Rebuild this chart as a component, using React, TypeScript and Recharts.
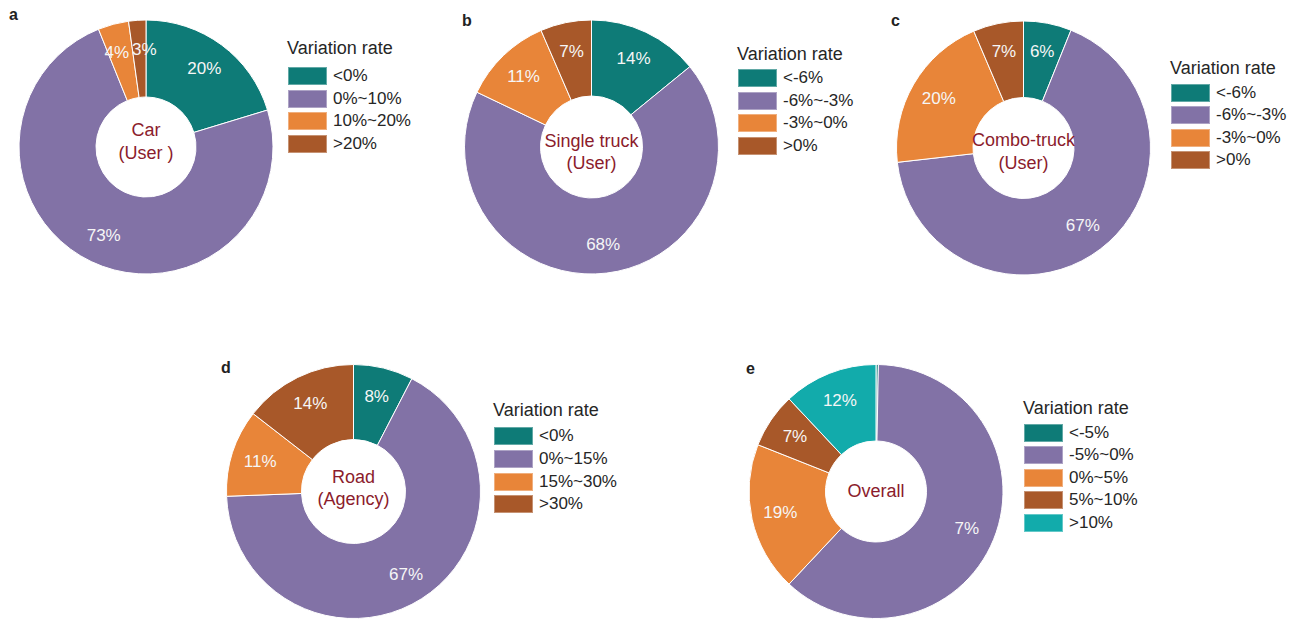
import { PieChart, Pie, Cell } from 'recharts';

const TEAL = '#0e7b77';
const PURPLE = '#8272a6';
const ORANGE = '#e88539';
const BROWN = '#a85829';
const CYAN = '#12abab';

const CAR_CATEGORIES = ['<0%', '0%~10%', '10%~20%', '>20%'];
const CAR_VALUES = [20.3, 73.6, 3.9, 2.2];
const CAR_LABELS = ['20%', '73%', '4%', '3%'];

const SINGLE_CATEGORIES = ['<-6%', '-6%~-3%', '-3%~0%', '>0%'];
const SINGLE_VALUES = [14.1, 68, 11.4, 6.5];
const SINGLE_LABELS = ['14%', '68%', '11%', '7%'];

const COMBO_CATEGORIES = ['<-6%', '-6%~-3%', '-3%~0%', '>0%'];
const COMBO_VALUES = [6.1, 67.1, 20.4, 6.4];
const COMBO_LABELS = ['6%', '67%', '20%', '7%'];

const ROAD_CATEGORIES = ['<0%', '0%~15%', '15%~30%', '>30%'];
const ROAD_VALUES = [7.6, 66.8, 11.1, 14.5];
const ROAD_LABELS = ['8%', '67%', '11%', '14%'];

const OVERALL_CATEGORIES = ['<-5%', '-5%~0%', '0%~5%', '5%~10%', '>10%'];
const OVERALL_VALUES = [0.3, 61.7, 19, 7, 12];
const OVERALL_LABELS = ['', '7%', '19%', '7%', '12%'];

const COLORS4 = [TEAL, PURPLE, ORANGE, BROWN];
const COLORS5 = [TEAL, PURPLE, ORANGE, BROWN, CYAN];

const FONT = '"Liberation Sans", Arial, Helvetica, sans-serif';
const RAD = Math.PI / 180;

// small horizontal nudges so the thin-slice labels don't collide
const makeLabel = (labels: string[], nudge: number[]) => (p: any) => {
  const r = 98;
  const x = p.cx + r * Math.cos(-p.midAngle * RAD) + (nudge[p.index] || 0);
  const y = p.cy + r * Math.sin(-p.midAngle * RAD);
  return (
    <text
      key={`lbl-${p.index}`}
      x={x}
      y={y}
      fill="#f6f6f6"
      textAnchor="middle"
      dominantBaseline="central"
      fontSize={17}
      fontFamily={FONT}
    >
      {labels[p.index]}
    </text>
  );
};

const panels = [
  {
    letter: 'a', left: 0, top: 0, w: 430, h: 300, cx: 146, cy: 147, inner: 50,
    cats: CAR_CATEGORIES, values: CAR_VALUES, labels: CAR_LABELS, colors: COLORS4, nudge: [0, 0, -4, 5],
    lx: 287, titleY: 48, rowY: 76, step: 22.7,
    center: ['Car', '(User )'], centerY: [130, 153], letterX: 9, letterBase: 20,
  },
  {
    letter: 'b', left: 430, top: 0, w: 430, h: 300, cx: 161.5, cy: 147, inner: 51,
    cats: SINGLE_CATEGORIES, values: SINGLE_VALUES, labels: SINGLE_LABELS, colors: COLORS4, nudge: [],
    lx: 307, titleY: 54, rowY: 77.7, step: 22.8,
    center: ['Single truck', '(User)'], centerY: [141, 163], letterX: 32, letterBase: 26,
  },
  {
    letter: 'c', left: 860, top: 0, w: 438, h: 300, cx: 163.5, cy: 148, inner: 50.5,
    cats: COMBO_CATEGORIES, values: COMBO_VALUES, labels: COMBO_LABELS, colors: COLORS4, nudge: [],
    lx: 310, titleY: 68, rowY: 92.5, step: 22.5,
    center: ['Combo-truck', '(User)'], centerY: [139.5, 163], letterX: 31, letterBase: 26.5,
  },
  {
    letter: 'd', left: 210, top: 340, w: 440, h: 279, cx: 143.5, cy: 151.5, inner: 52,
    cats: ROAD_CATEGORIES, values: ROAD_VALUES, labels: ROAD_LABELS, colors: COLORS4, nudge: [],
    lx: 283, titleY: 70, rowY: 96, step: 22.8,
    center: ['Road', '(Agency)'], centerY: [136.5, 159], letterX: 11, letterBase: 33,
  },
  {
    letter: 'e', left: 740, top: 340, w: 420, h: 279, cx: 136, cy: 151.5, inner: 50.5,
    cats: OVERALL_CATEGORIES, values: OVERALL_VALUES, labels: OVERALL_LABELS, colors: COLORS5, nudge: [],
    lx: 283, titleY: 68.3, rowY: 92.5, step: 22.6,
    center: ['Overall'], centerY: [150.5], letterX: 6, letterBase: 34,
  },
];

const Panel = ({ p }: { p: (typeof panels)[number] }) => {
  const data = p.cats.map((name, i) => ({ name, value: p.values[i] }));
  return (
    <div style={{ position: 'absolute', left: p.left, top: p.top, width: p.w, height: p.h }}>
      <PieChart width={p.w} height={p.h} margin={{ top: 0, right: 0, bottom: 0, left: 0 }}>
        <Pie
          data={data}
          dataKey="value"
          nameKey="name"
          cx={p.cx}
          cy={p.cy}
          innerRadius={p.inner}
          outerRadius={127}
          startAngle={90}
          endAngle={-270}
          stroke="#fff"
          strokeWidth={1}
          label={makeLabel(p.labels, p.nudge)}
          labelLine={false}
          isAnimationActive={false}
        >
          {data.map((_, i) => (
            <Cell key={i} fill={p.colors[i]} />
          ))}
        </Pie>
      </PieChart>

      {p.center.map((t, i) => (
        <div
          key={t}
          style={{
            position: 'absolute', left: p.cx - 80, width: 160, top: p.centerY[i] - 11,
            lineHeight: '22px', fontSize: 18, color: '#8b1c2c', textAlign: 'center',
          }}
        >
          {t}
        </div>
      ))}

      <div
        style={{
          position: 'absolute', left: p.letterX, top: p.letterBase - 13.5,
          lineHeight: '16px', fontSize: 16, fontWeight: 'bold', color: '#222',
        }}
      >
        {p.letter}
      </div>

      <div
        style={{
          position: 'absolute', left: p.lx, top: p.titleY - 11, lineHeight: '22px',
          fontSize: 18, color: '#262626', whiteSpace: 'nowrap',
        }}
      >
        Variation rate
      </div>
      {p.cats.map((c, i) => (
        <div key={c}>
          <div
            style={{
              position: 'absolute', left: p.lx + 1, top: p.rowY + i * p.step - 9, width: 39, height: 18,
              background: p.colors[i], boxShadow: 'inset 0 0 0 1px rgba(255,255,255,0.35)',
            }}
          />
          <div
            style={{
              position: 'absolute', left: p.lx + 46, top: p.rowY + i * p.step - 11, lineHeight: '22px',
              fontSize: 17, color: '#262626', whiteSpace: 'nowrap',
            }}
          >
            {c}
          </div>
        </div>
      ))}
    </div>
  );
};

export default function App() {
  return (
    <div
      style={{
        position: 'absolute', left: 0, top: 0, width: 1298, height: 619,
        background: '#fff', fontFamily: FONT, overflow: 'hidden',
      }}
    >
      {panels.map((p) => (
        <Panel key={p.letter} p={p} />
      ))}
    </div>
  );
}
